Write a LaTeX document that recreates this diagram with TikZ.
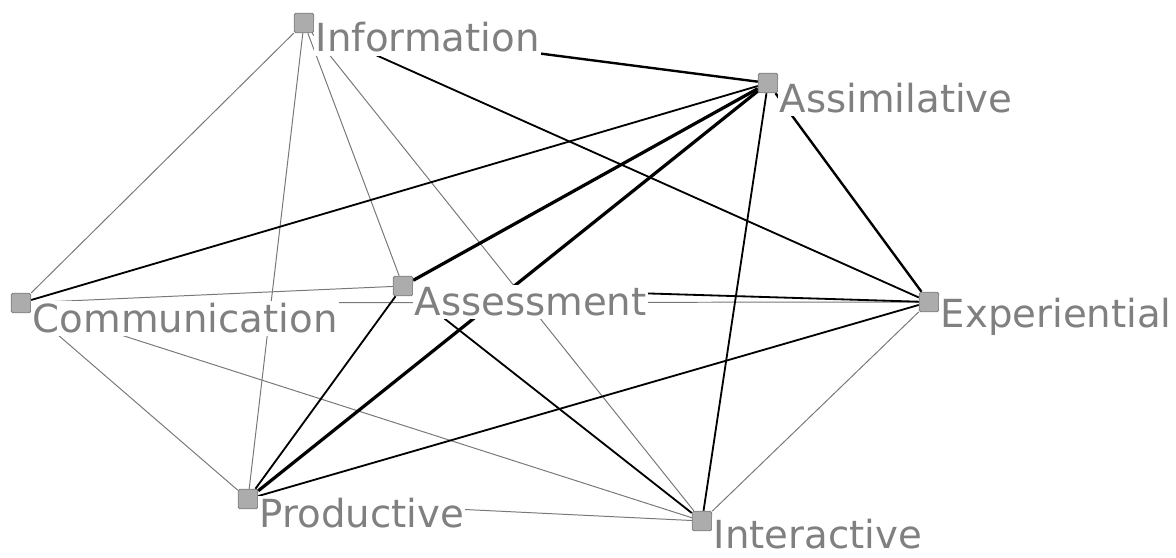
\documentclass[tikz,border=0pt]{standalone}
\usepackage{fontspec}
\setsansfont{DejaVu Sans}
\usetikzlibrary{calc,backgrounds}

\definecolor{labelgray}{RGB}{128,128,128}
\definecolor{boxfill}{RGB}{172,172,172}
\definecolor{boxline}{RGB}{125,125,125}
\definecolor{linkgray}{RGB}{120,120,120}

\begin{document}
\begin{tikzpicture}[
  x=0.025cm, y=-0.025cm,
  font=\sffamily,
  vertex/.style={rectangle,rounded corners=1.2pt,draw=boxline,fill=boxfill,minimum size=0.49cm,inner sep=0pt,line width=0.6pt},
  tag/.style={anchor=base west,fill=white,text=labelgray,inner sep=1pt,text depth=0.2em,font=\sffamily\fontsize{27.5}{30}\selectfont},
  faint/.style={linkgray,line width=0.7pt},
  plain/.style={black,line width=1.3pt},
  strong/.style={black,line width=1.7pt},
  heavy/.style={black,line width=2.3pt}
]
\useasboundingbox (0,0) rectangle (1176,558);

% the seven activity types
\node[vertex] (info) at (304,23) {};
\node[vertex] (assim) at (768,83) {};
\node[vertex] (comm) at (21,303) {};
\node[vertex] (assess) at (403,286) {};
\node[vertex] (exper) at (929,302) {};
\node[vertex] (prod) at (248,499) {};
\node[vertex] (inter) at (702,521) {};

\node[tag] (info-l) at ($(info)+(10,29)$) {Information};
\node[tag] (assim-l) at ($(assim)+(10,29)$) {Assimilative};
\node[tag] (comm-l) at ($(comm)+(10,29)$) {Communication};
\node[tag] (assess-l) at ($(assess)+(10,29)$) {Assessment};
\node[tag] (exper-l) at ($(exper)+(10,25)$) {Experiential};
\node[tag] (prod-l) at ($(prod)+(10,28)$) {Productive};
\node[tag,text depth=0pt] (inter-l) at ($(inter)+(10,27)$) {Interactive};

% links, weighted by strength
\begin{scope}[on background layer]
\foreach \a/\b in {info/comm,info/prod,info/assess,info/inter,comm/assess,comm/exper,comm/prod,comm/inter,exper/inter,prod/inter}
  \draw[faint] (\a) -- (\b);
\foreach \a/\b in {info/exper,comm/assim,assim/inter,assess/exper,assess/prod,assess/inter,prod/exper}
  \draw[plain] (\a) -- (\b);
\foreach \a/\b in {info/assim,assim/exper}
  \draw[strong] (\a) -- (\b);
\foreach \a/\b in {assim/assess,assim/prod}
  \draw[heavy] (\a) -- (\b);
\end{scope}
\end{tikzpicture}
\end{document}
